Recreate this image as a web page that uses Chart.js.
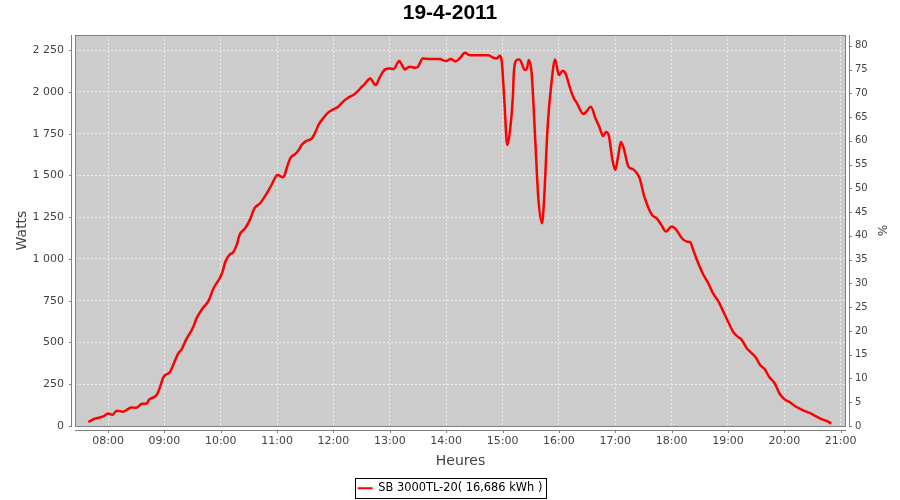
<!DOCTYPE html>
<html>
<head>
<meta charset="utf-8">
<script src="https://cdn.jsdelivr.net/npm/chart.js@4.4.1/dist/chart.umd.min.js"></script>
<style>
  html, body { margin: 0; padding: 0; background: #fff; }
  #wrap { width: 900px; height: 500px; }
</style>
</head>
<body>
<div id="wrap"><canvas id="solar" width="900" height="500"></canvas></div>
<script>
// readings of the inverter for the day (time, watts)
var times = ['07:39','07:46','07:55','08:00','08:05','08:09','08:16','08:25','08:30','08:36','08:41','08:44','08:52','08:55','08:59',
  '09:06','09:09','09:15','09:18','09:23','09:31','09:34','09:41','09:47','09:52','09:56','09:59',
  '10:02','10:05','10:10','10:13','10:17','10:20','10:26','10:31','10:36','10:42','10:49','10:54','10:59',
  '11:01','11:06','11:08','11:11','11:14','11:19','11:23','11:26','11:31','11:37','11:41','11:44','11:49','11:54',
  '12:00','12:05','12:10','12:16','12:22','12:27','12:30','12:33','12:39','12:45','12:49','12:55',
  '13:00','13:04','13:10','13:13','13:16','13:21','13:27','13:30','13:35','13:43','13:53',
  '14:00','14:05','14:10','14:15','14:20','14:25','14:36','14:45','14:50','14:54','14:57','14:59',
  '15:02','15:05','15:08','15:11','15:12','15:15','15:18','15:24','15:26','15:28','15:31','15:35','15:38','15:42','15:44','15:48','15:52','15:56',
  '16:00','16:04','16:07','16:12','16:16','16:19','16:26','16:29','16:34','16:39','16:43','16:47','16:50','16:53','16:57',
  '17:00','17:03','17:06','17:09','17:14','17:19','17:23','17:26','17:31','17:39','17:44','17:49','17:54',
  '18:00','18:05','18:11','18:16','18:20','18:23','18:27','18:33','18:39','18:44','18:50','18:55',
  '19:00','19:06','19:11','19:14','19:20','19:25','19:30','19:34','19:39','19:44','19:50','19:55',
  '20:00','20:07','20:12','20:19','20:27','20:34','20:41','20:46','20:50'];
var watts = [24,44,57,75,68,92,86,111,109,133,135,159,187,227,293,
  323,360,437,456,516,596,642,706,749,820,859,885,
  925,985,1029,1038,1084,1144,1184,1234,1304,1334,1393,1443,1497,
  1503,1489,1503,1557,1603,1627,1652,1682,1706,1722,1762,1802,1842,1875,
  1896,1911,1941,1967,1985,2011,2031,2045,2081,2041,2085,2135,
  2141,2137,2185,2161,2135,2151,2145,2151,2201,2197,2197,
  2185,2197,2183,2205,2234,2220,2220,2220,2205,2201,2217,2191,
  1941,1682,1772,1971,2111,2191,2195,2131,2141,2191,2111,1692,1373,1214,1333,1792,2051,2195,
  2101,2127,2111,2021,1961,1935,1868,1881,1911,1841,1792,1736,1760,1742,1593,
  1533,1613,1700,1663,1553,1537,1513,1483,1373,1264,1244,1204,1164,
  1194,1174,1124,1104,1098,1054,994,915,855,795,745,685,
  626,560,532,520,466,437,407,367,341,293,253,193,
  161,138,117,97,78,57,38,28,14];

var hourTicks = ['08:00','09:00','10:00','11:00','12:00','13:00','14:00','15:00','16:00','17:00','18:00','19:00','20:00','21:00'];
var wattTicks = [0,250,500,750,1000,1250,1500,1750,2000,2250];
var pctTicks = [0,5,10,15,20,25,30,35,40,45,50,55,60,65,70,75,80];
var seriesLabel = 'SB 3000TL-20( 16,686 kWh )';

function toHours(s) {
  var p = s.split(':');
  return +p[0] + (+p[1]) / 60;
}
function twoDigits(n) { return (n < 10 ? '0' : '') + n; }

var points = times.map(function(t, i) { return {x: toHours(t), y: watts[i]}; });

var tickFont = {family: 'DejaVu Sans', size: 11};
var AXIS_GRAY = '#808080';
var PAD_BOTTOM = -4;

// plot background, outline and the offset axis lines like JFreeChart
var plotFrame = {
  id: 'plotFrame',
  beforeDraw: function(chart) {
    var a = chart.chartArea, ctx = chart.ctx;
    ctx.save();
    ctx.fillStyle = '#cccccc';
    ctx.fillRect(a.left, a.top, a.right - a.left, a.bottom - a.top);
    ctx.restore();
  },
  afterDraw: function(chart) {
    var a = chart.chartArea, ctx = chart.ctx;
    var x = chart.scales.x, y = chart.scales.y, y2 = chart.scales.y2;
    ctx.save();
    ctx.strokeStyle = AXIS_GRAY;
    ctx.lineWidth = 1;
    ctx.strokeRect(a.left + 0.5, a.top + 0.5, a.right - a.left - 1, a.bottom - a.top);

    ctx.beginPath();
    // left axis
    ctx.moveTo(a.left - 3.5, a.top); ctx.lineTo(a.left - 3.5, a.bottom + 1);
    wattTicks.forEach(function(v) {
      var py = Math.round(y.getPixelForValue(v)) + 0.5;
      ctx.moveTo(a.left - 6, py); ctx.lineTo(a.left - 3.5, py);
    });
    // right axis
    ctx.moveTo(a.right + 3.5, a.top); ctx.lineTo(a.right + 3.5, a.bottom + 1);
    pctTicks.forEach(function(v) {
      var py = Math.round(y2.getPixelForValue(v)) + 0.5;
      ctx.moveTo(a.right + 3.5, py); ctx.lineTo(a.right + 6, py);
    });
    // bottom axis
    ctx.moveTo(a.left, a.bottom + 4.5); ctx.lineTo(a.right, a.bottom + 4.5);
    hourTicks.forEach(function(h) {
      var px = Math.round(x.getPixelForValue(toHours(h))) + 0.5;
      ctx.moveTo(px, a.bottom + 4.5); ctx.lineTo(px, a.bottom + 7);
    });
    ctx.stroke();

    // frame round the legend
    var hb = chart.legend.legendHitBoxes[0];
    if (hb) {
      ctx.strokeStyle = '#000';
      var cy = hb.top + hb.height / 2;
      ctx.strokeRect(Math.round(hb.left) - 2.5, Math.round(cy) - 9.5, Math.round(hb.width) + 6, 20);
    }
    ctx.restore();
  }
};

new Chart('solar', {
  type: 'line',
  plugins: [plotFrame],
  data: {
    datasets: [{
      label: seriesLabel,
      data: points,
      borderColor: '#ff0000',
      backgroundColor: '#ff0000',
      borderWidth: 2.5,
      pointRadius: 0,
      fill: false,
      cubicInterpolationMode: 'monotone',
      yAxisID: 'y'
    }]
  },
  options: {
    responsive: false,
    animation: false,
    layout: {padding: {left: 0, right: 0, top: 0, bottom: PAD_BOTTOM}},
    plugins: {
      title: {
        display: true,
        text: '19-4-2011',
        color: '#000',
        font: {family: 'Liberation Sans', size: 21, weight: 'bold', lineHeight: 1.2},
        padding: {top: 1, bottom: 8.8}
      },
      legend: {
        position: 'bottom',
        labels: {
          color: '#000',
          font: {family: 'DejaVu Sans', size: 11.4},
          boxWidth: 15,
          boxHeight: 2,
          padding: 2,
          generateLabels: function(chart) {
            var items = Chart.defaults.plugins.legend.labels.generateLabels(chart);
            items.forEach(function(it) { it.lineWidth = 0; });
            return items;
          }
        }
      },
      tooltip: {enabled: false}
    },
    scales: {
      x: {
        type: 'linear',
        min: 7.414,
        max: 21.094,
        afterBuildTicks: function(s) {
          s.ticks = hourTicks.map(function(h) { return {value: toHours(h)}; });
        },
        afterFit: function(s) {
          s.height = 500 - 426 - PAD_BOTTOM - s.chart.legend.height;
        },
        ticks: {
          color: '#444',
          font: tickFont,
          padding: 9,
          maxRotation: 0,
          autoSkip: false,
          callback: function(v) { return twoDigits(Math.round(v)) + ':00'; }
        },
        grid: {color: '#eeeeee', lineWidth: 1, drawTicks: false},
        border: {display: false, dash: [2, 2]},
        title: {
          display: true,
          text: 'Heures',
          color: '#444',
          font: {family: 'DejaVu Sans', size: 14},
          padding: {top: 0, bottom: 11}
        }
      },
      y: {
        position: 'left',
        min: 0,
        max: 2341,
        afterBuildTicks: function(s) {
          s.ticks = wattTicks.map(function(v) { return {value: v}; });
        },
        afterFit: function(s) { s.width = 75; },
        ticks: {
          color: '#444',
          font: tickFont,
          padding: 11,
          callback: function(v) { return String(v).replace(/\B(?=(\d{3})+(?!\d))/g, ' '); }
        },
        grid: {color: '#eeeeee', lineWidth: 1, drawTicks: false},
        border: {display: false, dash: [2, 2]},
        title: {
          display: true,
          text: 'Watts',
          color: '#444',
          font: {family: 'DejaVu Sans', size: 14},
          padding: {top: 14, bottom: 0}
        }
      },
      y2: {
        position: 'right',
        min: 0,
        max: 82.27,
        afterBuildTicks: function(s) {
          s.ticks = pctTicks.map(function(v) { return {value: v}; });
        },
        afterFit: function(s) { s.width = 54; },
        ticks: {color: '#444', font: {family: 'DejaVu Sans', size: 10}, padding: 9},
        grid: {display: false, drawTicks: false},
        border: {display: false},
        title: {
          display: true,
          text: '%',
          color: '#444',
          font: {family: 'DejaVu Sans', size: 12},
          padding: {top: 12, bottom: 0}
        }
      }
    }
  }
});
</script>
</body>
</html>
